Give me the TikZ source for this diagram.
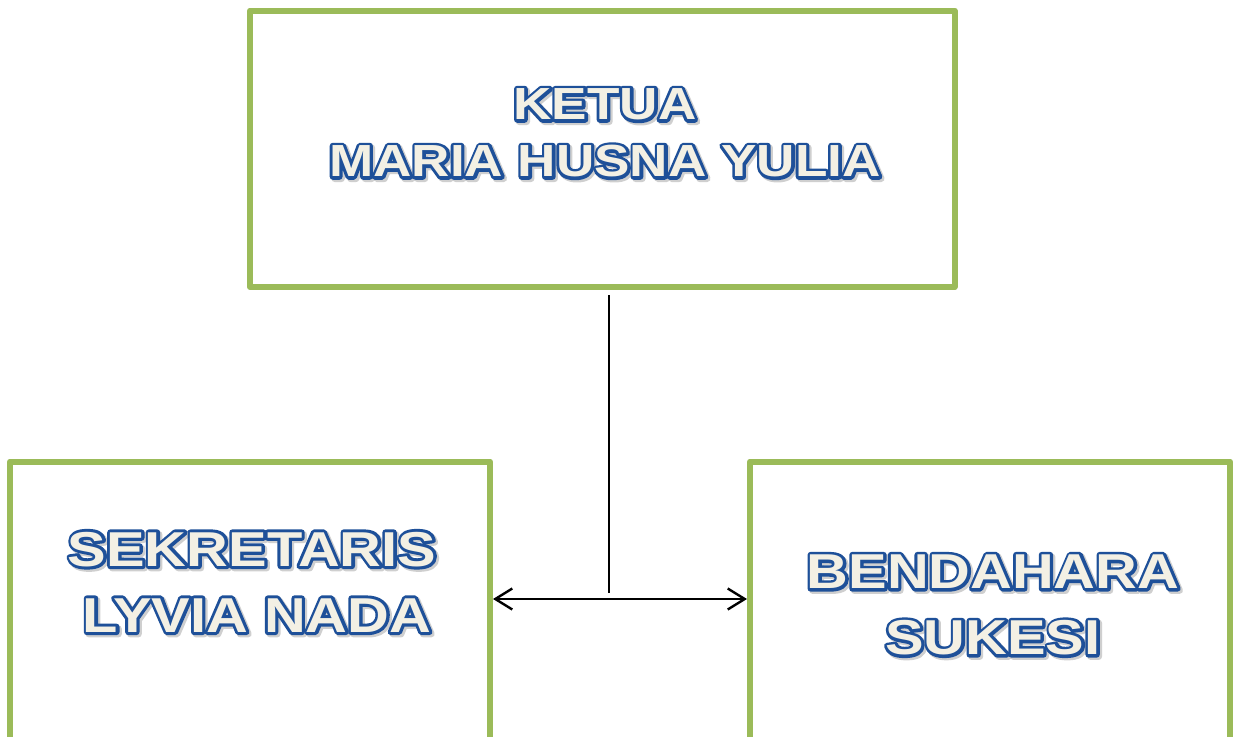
\documentclass[tikz,border=0pt]{standalone}
\usepackage{fontspec}
\usetikzlibrary{arrows.meta}
\newfontfamily\wafont[FakeStretch=1.18]{Liberation Sans}
\definecolor{boxgreen}{HTML}{9BBB59}
\definecolor{waline}{HTML}{1E5099}
\definecolor{wafill}{HTML}{F3F0E4}
\definecolor{washadow}{HTML}{CFCFCF}
\tikzset{
  box/.style={draw=boxgreen, line width=6pt, rectangle, inner sep=0pt, line join=round},
  watext/.style={align=center, inner sep=0pt},
  conn/.style={draw=black, line width=2.4pt},
  dblarrow/.style={conn, {Straight Barb[length=17pt,width=21pt]}-{Straight Barb[length=17pt,width=21pt]}}
}
% text with a given PDF text render mode (1 = stroke only, 2 = fill and stroke)
\newcommand\trm[2]{\special{pdf:literal direct #1}#2\special{pdf:literal direct 0 Tr}}
% WordArt-like label: shadow, blue outline, cream fill
\newcommand\wordart[6]{%
  \node[watext,font={\wafont\bfseries#3},text=washadow] (#1-shadow) at ([shift={(2pt,-2pt)}]#2)
    {\trm{2 Tr 6.5 w 1 j}{#4}\\\kern#6\trm{2 Tr 6.5 w 1 j}{#5}};
  \node[watext,font={\wafont\bfseries#3},text=waline] (#1-outline) at (#2)
    {\trm{1 Tr 6 w 1 j}{#4}\\\kern#6\trm{1 Tr 6 w 1 j}{#5}};
  \node[watext,font={\wafont\bfseries#3},text=wafill] (#1) at (#2)
    {#4\\\kern#6#5};
}
\begin{document}
\begin{tikzpicture}[x=1pt,y=-1pt]
\useasboundingbox (0,0) rectangle (1239,736);
\fill[white] (0,0) rectangle (1239,736);
% boxes
\node[box, minimum width=704.5pt, minimum height=276.5pt] (ketua) at (602.25,148.75) {};
\node[box, minimum width=480pt, minimum height=328.5pt] (sek) at (250,625.75) {};
\node[box, minimum width=480pt, minimum height=328.5pt] (ben) at (990,625.75) {};
% connectors
\coordinate (j) at (609,593);
\coordinate (h) at (609,599);
\draw[conn] ([yshift=-5pt]ketua.south -| j) -- (j);
\draw[dblarrow] (sek.east |- h) -- (ben.west |- h);
% labels
\wordart{ketuaL}{605,133}{\fontsize{45}{57}\selectfont}{KETUA}{MARIA HUSNA YULIA}{0pt}
\wordart{sekL}{252,582}{\fontsize{49}{66}\selectfont}{SEKRETARIS}{LYVIA NADA}{10pt}
\wordart{benL}{993,605}{\fontsize{49}{66}\selectfont}{BENDAHARA}{SUKESI}{0pt}
\end{tikzpicture}
\end{document}
